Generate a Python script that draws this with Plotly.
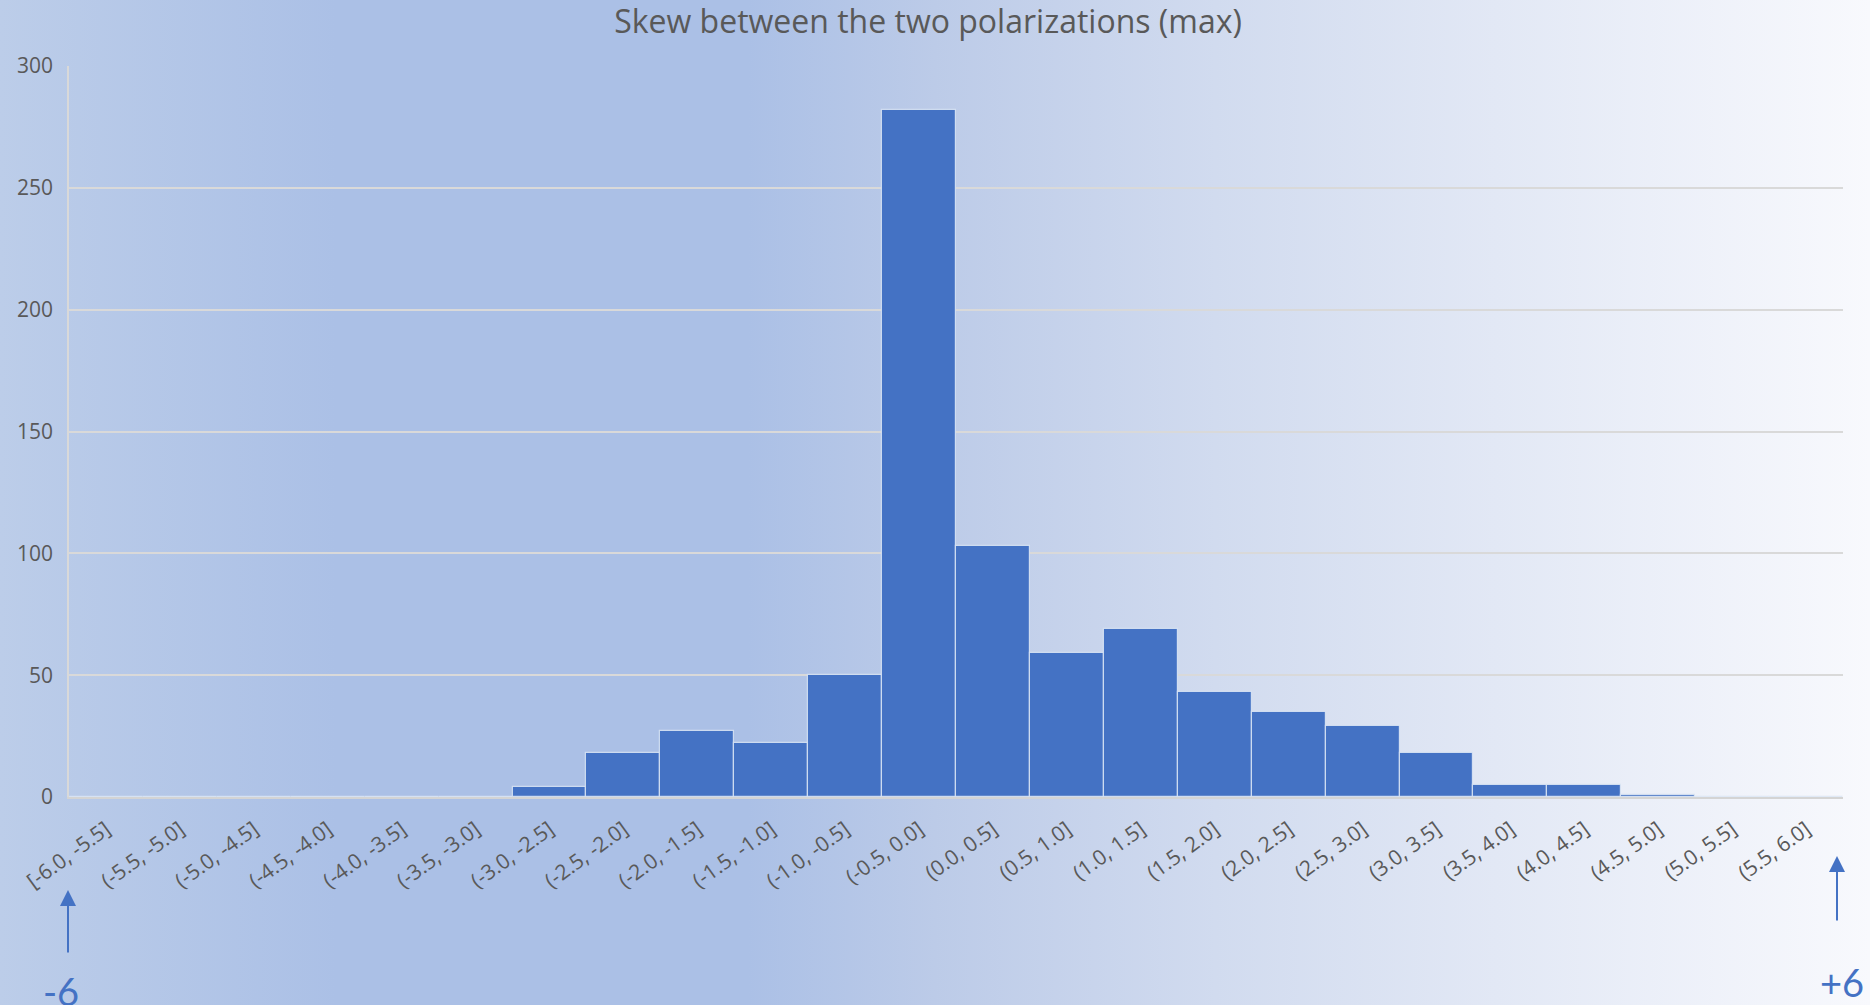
import base64
import plotly.graph_objects as go

# ---------------- data ----------------
bin_labels = [
    "[-6.0, -5.5]", "(-5.5, -5.0]", "(-5.0, -4.5]", "(-4.5, -4.0]", "(-4.0, -3.5]",
    "(-3.5, -3.0]", "(-3.0, -2.5]", "(-2.5, -2.0]", "(-2.0, -1.5]", "(-1.5, -1.0]",
    "(-1.0, -0.5]", "(-0.5, 0.0]", "(0.0, 0.5]", "(0.5, 1.0]", "(1.0, 1.5]",
    "(1.5, 2.0]", "(2.0, 2.5]", "(2.5, 3.0]", "(3.0, 3.5]", "(3.5, 4.0]",
    "(4.0, 4.5]", "(4.5, 5.0]", "(5.0, 5.5]", "(5.5, 6.0]",
]
counts = [0, 0, 0, 0, 0, 0, 4, 18, 27, 22, 50, 282, 103, 59, 69, 43, 35, 29, 18, 5, 5, 1, 0, 0]
y_ticks = [0, 50, 100, 150, 200, 250, 300]
title_text = "Skew between the two polarizations (max)"
left_marker = "-6"
right_marker = "+6"

# ---------------- layout geometry ----------------
W, H = 1870, 1005
ML, MR, MT, MB = 69, 27, 66, 208
PW = W - ML - MR
PH = H - MT - MB


def px_to_paper_x(px):
    return (px - ML) / PW


def px_to_paper_y(py):
    return (H - MB - py) / PH


# background gradient as inline SVG image
stops = [
    (0.00, "#bccde9"), (0.18, "#abc0e6"), (0.40, "#abc0e6"), (0.50, "#bccbe8"),
    (0.65, "#d1dbef"), (0.80, "#e2e8f5"), (1.00, "#f8f9fd"),
]
stop_xml = "".join(f'<stop offset="{o}" stop-color="{c}"/>' for o, c in stops)
svg = (
    f'<svg xmlns="http://www.w3.org/2000/svg" width="{W}" height="{H}" '
    f'viewBox="0 0 {W} {H}" preserveAspectRatio="none">'
    f'<defs><linearGradient id="g" x1="0" y1="0" x2="1" y2="0">{stop_xml}</linearGradient></defs>'
    f'<rect x="0" y="0" width="{W}" height="{H}" fill="url(#g)"/></svg>'
)
bg_src = "data:image/svg+xml;base64," + base64.b64encode(svg.encode()).decode()

fig = go.Figure()
fig.add_trace(go.Bar(
    x=bin_labels,
    y=counts,
    marker=dict(color="#4472c4", line=dict(color="rgba(220,230,245,0.85)", width=1.2)),
    hoverinfo="x+y",
))

label_font = dict(family="Open Sans, Noto Sans, sans-serif", color="#595959")

fig.update_layout(
    width=W, height=H,
    margin=dict(l=ML, r=MR, t=MT, b=MB, autoexpand=False),
    paper_bgcolor="rgba(0,0,0,0)",
    plot_bgcolor="rgba(0,0,0,0)",
    bargap=0,
    showlegend=False,
    title=dict(
        text=title_text,
        x=928 / W, xref="container", xanchor="center",
        y=1 - 22 / H, yref="container", yanchor="middle",
        font=dict(size=32, **label_font),
    ),
    xaxis=dict(
        type="category",
        tickangle=-36,
        tickfont=dict(size=21, **label_font),
        showline=True, linecolor="#d4d4d4", linewidth=2,
        showgrid=False, ticks="",
        ticklabelstandoff=10,
    ),
    yaxis=dict(
        range=[0, 300],
        tickvals=y_ticks,
        tickfont=dict(size=21, **label_font),
        showgrid=True, gridcolor="#d9d9d9", gridwidth=1.5,
        zeroline=False,
        showline=True, linecolor="#d9d9d9", linewidth=1.5,
        ticks="",
        ticklabelstandoff=10,
    ),
    images=[dict(
        source=bg_src, xref="paper", yref="paper",
        x=px_to_paper_x(0), y=px_to_paper_y(0),
        sizex=W / PW, sizey=H / PH,
        xanchor="left", yanchor="top", sizing="stretch", layer="below",
    )],
    annotations=[
        dict(x=px_to_paper_x(68), y=px_to_paper_y(890), xref="paper", yref="paper",
             text="", showarrow=True, ax=0, ay=64, arrowhead=2, arrowsize=1.6,
             arrowwidth=2, arrowcolor="#4472c4"),
        dict(x=px_to_paper_x(61), y=px_to_paper_y(991), xref="paper", yref="paper",
             text=left_marker, showarrow=False, xanchor="center", yanchor="middle",
             font=dict(family="Lato, Open Sans, sans-serif", size=38, color="#4472c4")),
        dict(x=px_to_paper_x(1837), y=px_to_paper_y(856), xref="paper", yref="paper",
             text="", showarrow=True, ax=0, ay=66, arrowhead=2, arrowsize=1.6,
             arrowwidth=2, arrowcolor="#4472c4"),
        dict(x=px_to_paper_x(1842), y=px_to_paper_y(982), xref="paper", yref="paper",
             text=right_marker, showarrow=False, xanchor="center", yanchor="middle",
             font=dict(family="Lato, Open Sans, sans-serif", size=38, color="#4472c4")),
    ],
)

fig.write_html("out.html")
